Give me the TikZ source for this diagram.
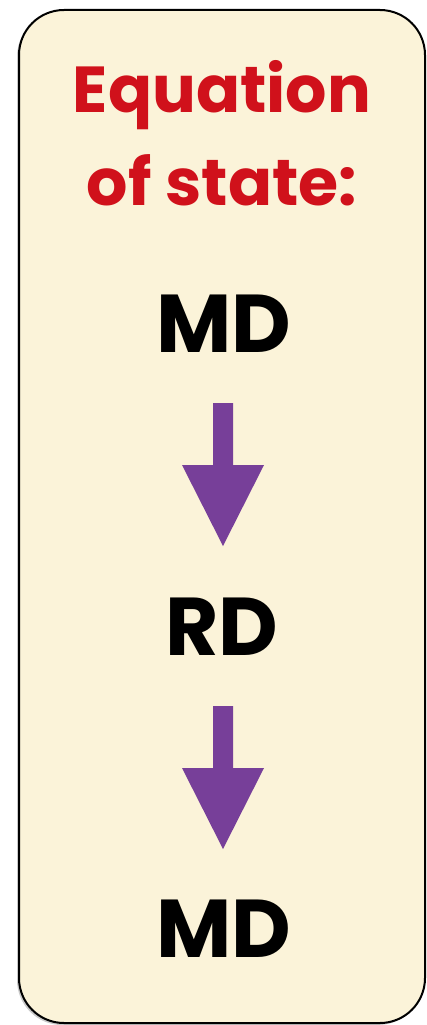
\documentclass[tikz,border=0pt]{standalone}
\usepackage{fontspec}
\setmainfont{Poppins}
\usetikzlibrary{shadows}
\definecolor{boxfill}{HTML}{FBF3D9}
\definecolor{titlered}{HTML}{D0111B}
\definecolor{arrowpurple}{HTML}{773F99}
\tikzset{
  panel/.style={draw=black, line width=2pt, fill=boxfill, rounded corners=45pt,
    drop shadow={shadow xshift=-2pt, shadow yshift=-2pt, opacity=0.35, fill=black!60}},
  title/.style={text=titlered, font=\fontsize{65}{70}\selectfont\bfseries, anchor=base},
  label/.style={text=black, font=\fontsize{82}{86}\selectfont\bfseries, anchor=base},
  bigarrow/.style={fill=arrowpurple, draw=none}
}
\begin{document}
\begin{tikzpicture}[x=1pt,y=1pt]
\useasboundingbox (0,0) rectangle (427,-1025);
\path[panel] (19,-10) rectangle (425,-1023);
\node[title] (t1) at (222,-112) {Equation};
\node[title] (t2) at (222,-205) {of state:};
\node[label] (m1) at (224,-352) {MD};
\node[label] (r1) at (222,-655) {RD};
\node[label] (m2) at (224,-957) {MD};
\fill[bigarrow] (213,-403) -- (233,-403) -- (233,-465) -- (264,-465) -- (223,-546) -- (182,-465) -- (213,-465) -- cycle;
\fill[bigarrow] (213,-706) -- (233,-706) -- (233,-768) -- (264,-768) -- (223,-849) -- (182,-768) -- (213,-768) -- cycle;
\end{tikzpicture}
\end{document}
